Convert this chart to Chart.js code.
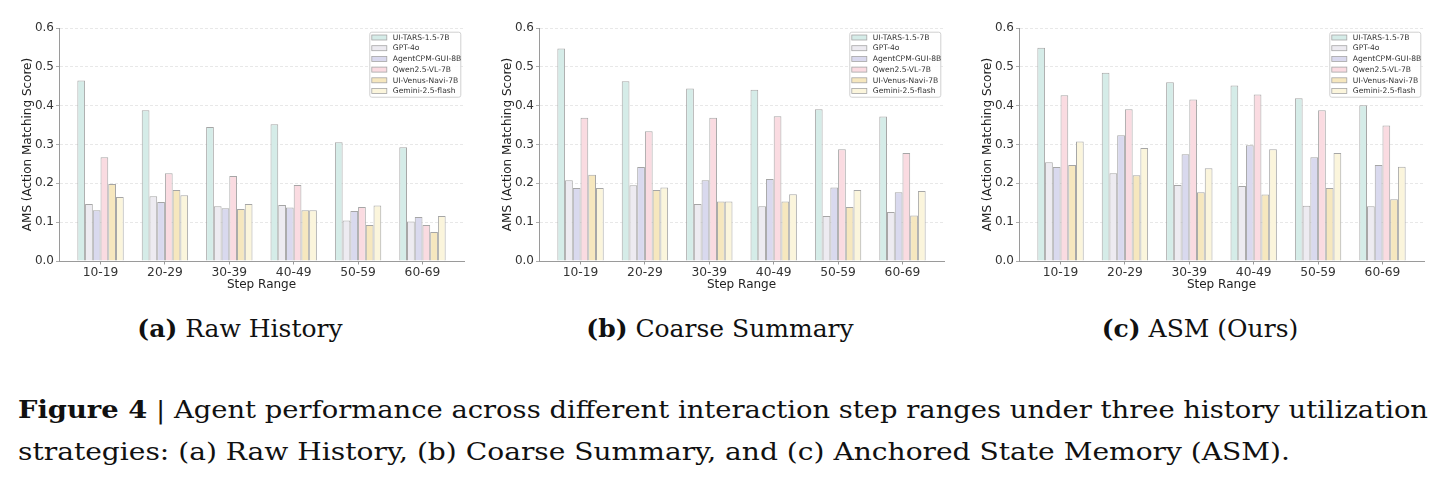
<!DOCTYPE html>
<html>
<head>
<meta charset="utf-8">
<script src="https://cdn.jsdelivr.net/npm/chart.js@4/dist/chart.umd.min.js"></script>
<style>
  body { margin: 0; background: #fff; width: 1446px; height: 477px; position: relative; overflow: hidden; }
  .panel { position: absolute; top: 0; width: 480px; height: 300px; }
  .sub { position: absolute; top: 314px; width: 480px; text-align: center; font-family: "DejaVu Serif", serif; font-size: 25px; color: #111; white-space: nowrap; }
  .cap { position: absolute; left: 18px; font-family: "DejaVu Serif", serif; font-size: 25px; color: #111; white-space: nowrap; transform-origin: 0 0; }
</style>
</head>
<body>
<div class="panel" style="left:0px"><canvas id="chartRaw"></canvas></div>
<div class="panel" style="left:480px"><canvas id="chartCoarse"></canvas></div>
<div class="panel" style="left:960px"><canvas id="chartAsm"></canvas></div>

<div class="sub" style="left:0px"><b>(a)</b> Raw History</div>
<div class="sub" style="left:480px"><b>(b)</b> Coarse Summary</div>
<div class="sub" style="left:960px"><b>(c)</b> ASM (Ours)</div>

<div class="cap" id="cap1" style="top:395px"><b>Figure 4</b> | Agent performance across different interaction step ranges under three history utilization</div>
<div class="cap" id="cap2" style="top:437px">strategies: (a) Raw History, (b) Coarse Summary, and (c) Anchored State Memory (ASM).</div>

<script>
// categories, models and axis ticks
const categories = ["10-19", "20-29", "30-39", "40-49", "50-59", "60-69"];
const models = ["UI-TARS-1.5-7B", "GPT-4o", "AgentCPM-GUI-8B", "Qwen2.5-VL-7B", "UI-Venus-Navi-7B", "Gemini-2.5-flash"];
const yTickValues = [0, 0.1, 0.2, 0.3, 0.4, 0.5, 0.6];

// (a) Raw History
const rawUiTars = [0.465, 0.388, 0.345, 0.352, 0.306, 0.293];
const rawGpt4o = [0.147, 0.167, 0.141, 0.144, 0.104, 0.102];
const rawAgentCpm = [0.131, 0.152, 0.136, 0.138, 0.129, 0.113];
const rawQwen = [0.267, 0.226, 0.219, 0.196, 0.139, 0.093];
const rawVenus = [0.198, 0.183, 0.134, 0.131, 0.093, 0.075];
const rawGemini = [0.165, 0.169, 0.147, 0.131, 0.143, 0.116];

// (b) Coarse Summary
const coarseUiTars = [0.547, 0.463, 0.444, 0.441, 0.391, 0.372];
const coarseGpt4o = [0.208, 0.195, 0.147, 0.141, 0.116, 0.126];
const coarseAgentCpm = [0.188, 0.242, 0.208, 0.211, 0.189, 0.177];
const coarseQwen = [0.369, 0.334, 0.369, 0.373, 0.288, 0.278];
const coarseVenus = [0.222, 0.183, 0.153, 0.153, 0.139, 0.117];
const coarseGemini = [0.188, 0.189, 0.153, 0.172, 0.183, 0.180];

// (c) ASM (Ours)
const asmUiTars = [0.549, 0.485, 0.460, 0.452, 0.419, 0.401];
const asmGpt4o = [0.254, 0.226, 0.196, 0.193, 0.142, 0.141];
const asmAgentCpm = [0.242, 0.324, 0.275, 0.298, 0.267, 0.247];
const asmQwen = [0.427, 0.391, 0.416, 0.429, 0.388, 0.349];
const asmVenus = [0.247, 0.221, 0.177, 0.171, 0.188, 0.159];
const asmGemini = [0.308, 0.291, 0.239, 0.288, 0.278, 0.243];

// bar fills, one per model
const fillColors = ["#d5ece8", "#edebf1", "#d9d9ee", "#fadbe1", "#f6e7be", "#fbf5dc"];
const edgeColor = "#a6a6a6";
const axisColor = "#9a9a9a";

Chart.defaults.font.family = "DejaVu Sans";
Chart.defaults.color = "#333";

// legend box drawn inside the top right corner of the plot
const boxLegend = {
  id: "boxLegend",
  afterDatasetsDraw(chart) {
    const ctx = chart.ctx;
    const area = chart.chartArea;
    const x0 = area.right - 94.7, y0 = area.top + 3.7;
    ctx.save();
    ctx.fillStyle = "rgba(255,255,255,0.85)";
    ctx.strokeStyle = "#d0d0d0";
    ctx.lineWidth = 1;
    ctx.beginPath();
    ctx.roundRect(x0 + 0.5, y0 + 0.5, 91, 65, 2);
    ctx.fill();
    ctx.stroke();
    ctx.font = "7.6px 'DejaVu Sans'";
    ctx.textBaseline = "middle";
    chart.data.datasets.forEach((ds, i) => {
      const y = y0 + 5.8 + i * 10.7;
      ctx.fillStyle = ds.backgroundColor;
      ctx.strokeStyle = ds.borderColor;
      ctx.lineWidth = 0.8;
      ctx.fillRect(x0 + 2.5, y - 2.5, 15, 5);
      ctx.strokeRect(x0 + 2.5, y - 2.5, 15, 5);
      ctx.fillStyle = "#333";
      ctx.fillText(ds.label, x0 + 23.5, y + 0.3);
    });
    ctx.restore();
  }
};

function makePanel(canvasId, seriesList) {
  const datasets = seriesList.map((values, i) => ({
    label: models[i],
    data: values.map((v, j) => ({ x: j, y: v })),
    backgroundColor: fillColors[i],
    borderColor: edgeColor,
    borderWidth: 1,
    categoryPercentage: 0.72,
    barPercentage: 1.0
  }));

  return new Chart(document.getElementById(canvasId), {
    type: "bar",
    data: { datasets: datasets },
    plugins: [boxLegend],
    options: {
      responsive: true,
      maintainAspectRatio: false,
      animation: false,
      layout: { padding: { left: 0, top: 28, right: 16, bottom: 0 } },
      plugins: { legend: { display: false }, tooltip: { enabled: false } },
      scales: {
        x: {
          type: "linear",
          offset: false,
          min: -0.645,
          max: categories.length - 1 + 0.645,
          afterBuildTicks: scale => { scale.ticks = categories.map((c, i) => ({ value: i })); },
          afterFit: scale => { scale.height = 39; },
          ticks: {
            callback: value => categories[value],
            font: { size: 12.3 },
            padding: 1,
            maxRotation: 0
          },
          grid: { offset: false, drawOnChartArea: false, drawTicks: true, tickLength: 3.5, color: axisColor },
          border: { color: axisColor, width: 1 },
          title: { display: true, text: "Step Range", font: { size: 12 }, padding: { top: 0, bottom: 7.8 }, color: "#222" }
        },
        y: {
          min: 0,
          max: 0.6,
          afterBuildTicks: scale => { scale.ticks = yTickValues.map(v => ({ value: v })); },
          afterFit: scale => { scale.width = 59; },
          ticks: { callback: value => value.toFixed(1), font: { size: 12 }, padding: 2 },
          grid: { color: "#e2e2e2", tickColor: axisColor, tickLength: 3, tickBorderDash: [], lineWidth: 0.8 },
          border: { color: axisColor, width: 1, dash: [3, 2] },
          title: { display: true, text: "AMS (Action Matching Score)", font: { size: 12 }, padding: { top: 20.8, bottom: 0 }, color: "#222" }
        }
      }
    }
  });
}

makePanel("chartRaw", [rawUiTars, rawGpt4o, rawAgentCpm, rawQwen, rawVenus, rawGemini]);
makePanel("chartCoarse", [coarseUiTars, coarseGpt4o, coarseAgentCpm, coarseQwen, coarseVenus, coarseGemini]);
makePanel("chartAsm", [asmUiTars, asmGpt4o, asmAgentCpm, asmQwen, asmVenus, asmGemini]);

// squeeze the caption lines to the reference widths
[["cap1", 1410], ["cap2", 1272]].forEach(([id, target]) => {
  const el = document.getElementById(id);
  const w = el.getBoundingClientRect().width;
  el.style.transform = "scaleX(" + (target / w) + ")";
});
</script>
</body>
</html>
